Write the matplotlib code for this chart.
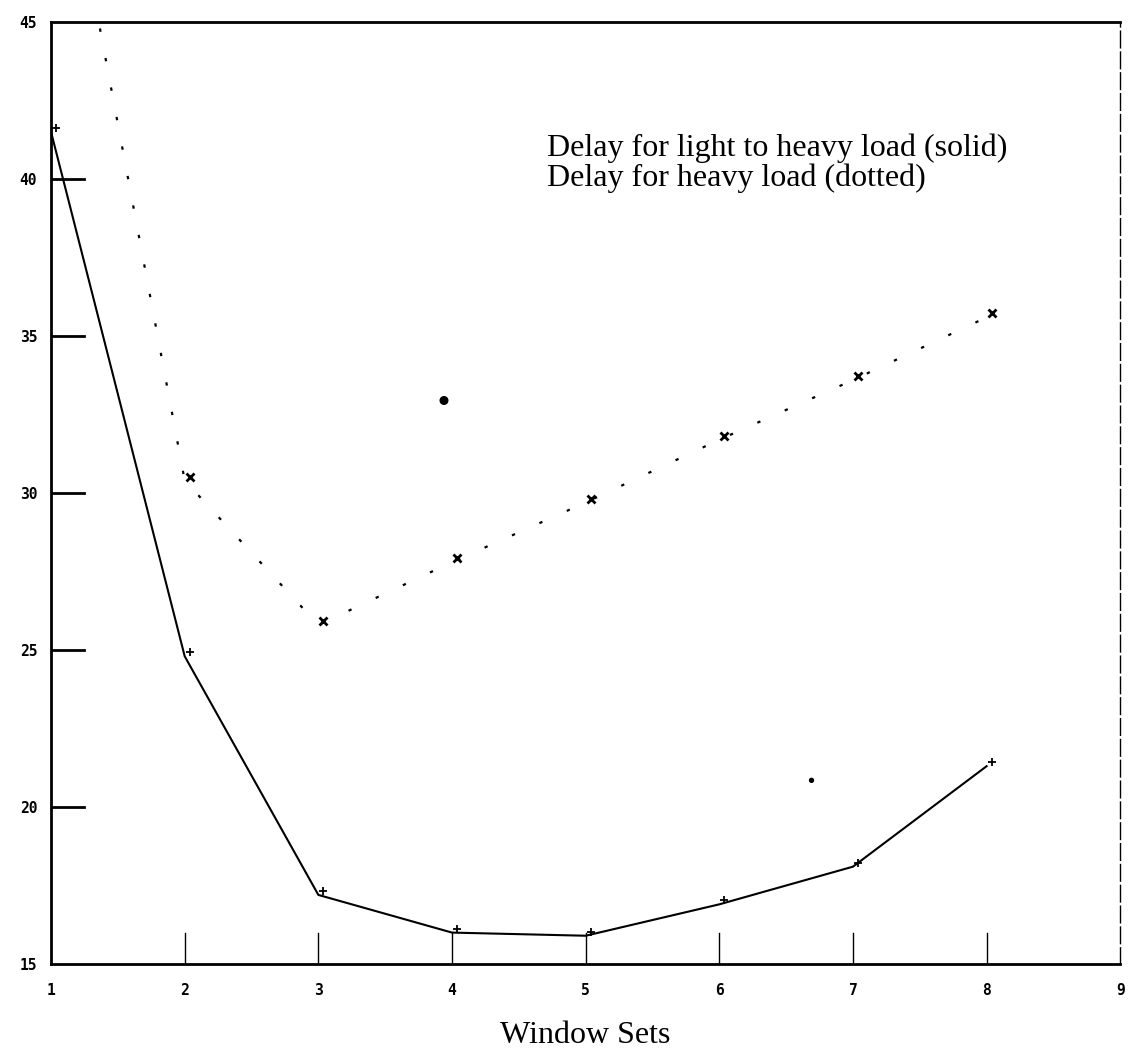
import matplotlib.pyplot as plt
import matplotlib.transforms as mtransforms

# window sets on the x axis
window_sets = [1, 2, 3, 4, 5, 6, 7, 8]

# delay for light to heavy load (solid)
delay_light = [41.5, 24.8, 17.2, 16.0, 15.9, 16.9, 18.1, 21.3]

# delay for heavy load (dotted); the first point lies above the plot
delay_heavy = [53.1, 30.4, 25.8, 27.8, 29.7, 31.7, 33.6, 35.6]

# two loose specks that are on the printed sheet
speck_x = [3.94, 6.69]
speck_y = [32.95, 20.85]

y_ticks = [15, 20, 25, 30, 35, 40, 45]
x_ticks = [1, 2, 3, 4, 5, 6, 7, 8, 9]

fig = plt.figure(figsize=(11.35, 10.57), dpi=100)
ax = fig.add_axes([0.045, 0.088, 0.942, 0.891])

ax.set_xlim(1, 9)
ax.set_ylim(15, 45)

# markers printed a bit right and up of the curve vertices
shift = mtransforms.ScaledTranslation(5 / 100, 4 / 100, fig.dpi_scale_trans)

ax.plot(window_sets, delay_light, color='black', lw=1.5, clip_on=True)
ax.plot(window_sets, delay_light, ls='none', marker='+', ms=6, mew=1.3,
        color='black', transform=ax.transData + shift)

ax.plot(window_sets, delay_heavy, color='black', lw=1.6,
        ls=(0, (1.5, 12)), clip_on=True)
ax.plot(window_sets[1:], delay_heavy[1:], ls='none', marker='x', ms=6,
        mew=2, color='black', transform=ax.transData + shift)

ax.scatter(speck_x, speck_y, s=[30, 8], color='black')

# frame: heavy top/left/bottom, thin broken right edge
for side in ['top', 'left', 'bottom']:
    ax.spines[side].set_linewidth(2)
ax.spines['right'].set_linewidth(1)
ax.spines['right'].set_linestyle((0, (12, 3)))

# ticks drawn as plain lines inside the frame
ax.set_xticks(x_ticks)
ax.set_yticks(y_ticks)
ax.tick_params(length=0, pad=14)
ax.set_xticklabels([str(v) for v in x_ticks], fontsize=10.5,
                   family='DejaVu Sans Mono', fontweight='bold')
ax.set_yticklabels([str(v) for v in y_ticks], fontsize=10.5,
                   family='DejaVu Sans Mono', fontweight='bold')
ax.tick_params(axis='y', pad=10)

for v in y_ticks[1:-1]:
    ax.plot([1, 1.25], [v, v], color='black', lw=2)
for v in x_ticks[1:-1]:
    ax.plot([v, v], [15, 16.0], color='black', lw=1)

ax.set_xlabel('Window Sets', family='Liberation Serif', fontsize=23,
              labelpad=16)

ax.text(4.71, 41.45, 'Delay for light to heavy load (solid)\n'
        'Delay for heavy load (dotted)', family='Liberation Serif',
        fontsize=23, linespacing=1.0, va='top', ha='left')

fig.savefig('out.png', dpi=100)
plt.close()
